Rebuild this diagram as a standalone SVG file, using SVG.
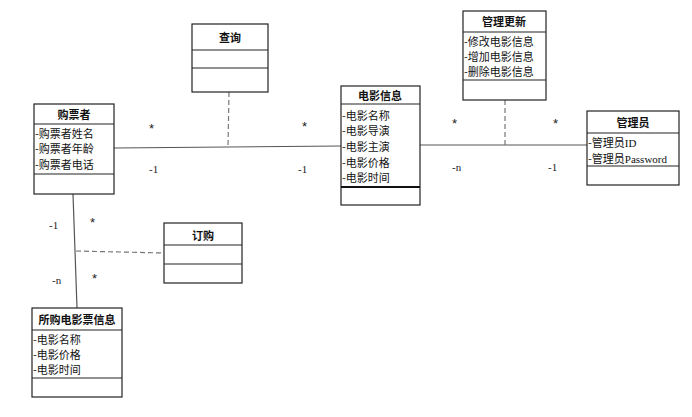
<svg xmlns="http://www.w3.org/2000/svg" width="692" height="417" viewBox="0 0 692 417">
<style>
.b{fill:#fff;stroke:#222;stroke-width:1.2}
.l{stroke:#222;stroke-width:1}
.t{font-family:"Noto Sans CJK SC",sans-serif;font-size:11px;fill:#111}
.h{font-family:"Noto Sans CJK SC",sans-serif;font-size:11px;font-weight:bold;fill:#111;text-anchor:middle}
.m{font-family:"Liberation Serif",serif;font-size:11px;fill:#222}
.s{font-family:"Liberation Sans",sans-serif;font-size:13px;fill:#222}
.c{stroke:#555;stroke-width:1.2;fill:none}
.d{stroke:#777;stroke-width:1.2;fill:none;stroke-dasharray:5,3}
</style>
<rect width="692" height="417" fill="#fff"/>
<g id="connectors">
<line class="c" x1="114" y1="148" x2="341" y2="146"/>
<line class="d" x1="229" y1="92" x2="228" y2="147"/>
<line class="c" x1="420" y1="145" x2="587" y2="145"/>
<line class="d" x1="505" y1="100" x2="505" y2="145"/>
<line class="c" x1="73" y1="194" x2="77" y2="308"/>
<line class="d" x1="76" y1="251" x2="164" y2="253"/>
<text class="s" x="149" y="133">*</text><text class="m" x="149" y="173">-1</text>
<text class="s" x="302" y="131">*</text><text class="m" x="298" y="173">-1</text>
<text class="s" x="452" y="128">*</text><text class="m" x="452" y="171">-n</text>
<text class="s" x="553" y="128">*</text><text class="m" x="548" y="171">-1</text>
<text class="m" x="49" y="229">-1</text><text class="s" x="90" y="227">*</text>
<text class="m" x="52" y="284">-n</text><text class="s" x="92" y="283">*</text>
</g>
<g id="buyer">
<rect class="b" x="34" y="104" width="80" height="90"/>
<line class="l" x1="34" y1="124" x2="114" y2="124"/><line class="l" x1="34" y1="174" x2="114" y2="174"/>
<text class="h" x="74" y="119">购票者</text>
<text class="t" x="35" y="138">-购票者姓名</text><text class="t" x="35" y="153">-购票者年龄</text><text class="t" x="35" y="169">-购票者电话</text>
</g>
<g id="query">
<rect class="b" x="192" y="24" width="76" height="68"/>
<line class="l" x1="192" y1="50" x2="268" y2="50"/><line class="l" x1="192" y1="68" x2="268" y2="68"/>
<text class="h" x="230" y="42">查询</text>
</g>
<g id="movie">
<rect class="b" x="341" y="86" width="79" height="119"/>
<line class="l" x1="341" y1="104" x2="420" y2="104"/><line x1="341" y1="187" x2="420" y2="187" stroke="#111" stroke-width="2.2"/>
<text class="h" x="380" y="100">电影信息</text>
<text class="t" x="342" y="120">-电影名称</text><text class="t" x="342" y="135">-电影导演</text><text class="t" x="342" y="151">-电影主演</text><text class="t" x="342" y="167">-电影价格</text><text class="t" x="342" y="182">-电影时间</text>
</g>
<g id="manage">
<rect class="b" x="463" y="11" width="83" height="89"/>
<line class="l" x1="463" y1="32" x2="546" y2="32"/><line class="l" x1="463" y1="80" x2="546" y2="80"/>
<text class="h" x="504" y="26">管理更新</text>
<text class="t" x="464" y="46">-修改电影信息</text><text class="t" x="464" y="61">-增加电影信息</text><text class="t" x="464" y="76">-删除电影信息</text>
</g>
<g id="admin">
<rect class="b" x="587" y="111" width="92" height="74"/>
<line class="l" x1="587" y1="133" x2="679" y2="133"/><line class="l" x1="587" y1="166" x2="679" y2="166"/>
<text class="h" x="633" y="127">管理员</text>
<text class="t" x="588" y="147">-管理员<tspan font-family="Liberation Serif">ID</tspan></text>
<text class="t" x="588" y="163">-管理员<tspan font-family="Liberation Serif">Password</tspan></text>
</g>
<g id="order">
<rect class="b" x="164" y="223" width="78" height="60"/>
<line class="l" x1="164" y1="245" x2="242" y2="245"/><line class="l" x1="164" y1="264" x2="242" y2="264"/>
<text class="h" x="203" y="240">订购</text>
</g>
<g id="ticket">
<rect class="b" x="32" y="308" width="90" height="89"/>
<line class="l" x1="32" y1="330" x2="122" y2="330"/><line class="l" x1="32" y1="378" x2="122" y2="378"/>
<text class="h" x="77" y="324">所购电影票信息</text>
<text class="t" x="33" y="344">-电影名称</text><text class="t" x="33" y="359">-电影价格</text><text class="t" x="33" y="374">-电影时间</text>
</g>
</svg>
